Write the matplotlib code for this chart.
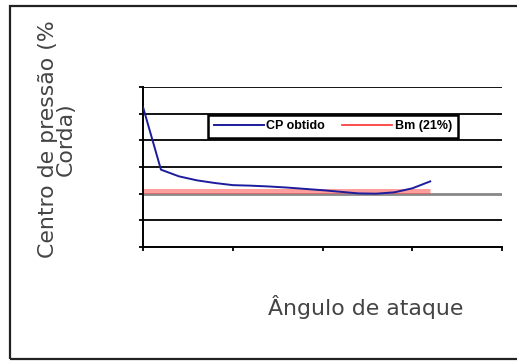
import matplotlib.pyplot as plt
import matplotlib.patches as patches
import numpy as np

# angle of attack (deg) and centre of pressure (% chord)
angulo = [0, 1, 2, 3, 4, 5, 6, 7, 8, 9, 10, 11, 12, 13, 14, 15, 16]
cp_obtido = [52.5, 29.0, 26.5, 25.0, 24.0, 23.2, 23.0, 22.7, 22.3, 21.8,
             21.3, 20.7, 20.1, 20.0, 20.5, 22.0, 24.6]
base_valor = 21

y_ticks = [0, 10, 20, 30, 40, 50, 60]
x_ticks = [0, 5, 10, 15, 20]

fig = plt.figure(figsize=(5.17, 3.62), dpi=100)
fig.patch.set_facecolor('white')

# outer chart frame
fig.patches.append(patches.Rectangle((10 / 517, 3 / 362), 1.2, 353 / 362,
                                     transform=fig.transFigure, fill=False,
                                     edgecolor='#222222', linewidth=1.6))

ax = fig.add_axes([143 / 517, 115 / 362, 359 / 517, 160 / 362])

# horizontal gridlines, one of them grey
for v in y_ticks[1:]:
    col = '#888888' if v == 20 else 'black'
    lw = 2.0 if v == 20 else 1.3
    ax.axhline(v, color=col, linewidth=lw, zorder=1)

ax.plot([angulo[0], angulo[-1]], [base_valor, base_valor], color='#ff5a5a',
        alpha=0.6, linewidth=3.6, solid_capstyle='butt', zorder=2,
        label='Bm (21%)')
ax.plot(angulo, cp_obtido, color='#1c1c9c', linewidth=1.4, zorder=3,
        label='CP obtido')

ax.set_xlim(0, 20)
ax.set_ylim(0, 60)
ax.set_xticks(x_ticks)
ax.set_yticks(y_ticks)
ax.set_xticklabels([])
ax.set_yticklabels([])
ax.tick_params(direction='out', length=3, width=1.3, color='black')

for s in ['top', 'right']:
    ax.spines[s].set_visible(False)
for s in ['left', 'bottom']:
    ax.spines[s].set_linewidth(1.4)

handles, labels = ax.get_legend_handles_labels()
leg_red = plt.Line2D([], [], color='#ff3030', linewidth=1.2)
leg = ax.legend([handles[1], leg_red], [labels[1], labels[0]], ncol=2,
                mode='expand', loc='lower left',
                bbox_to_anchor=(0.181, 0.681, 0.696, 0.15),
                borderaxespad=0,
                fancybox=False, framealpha=1, edgecolor='black',
                prop={'weight': 'bold', 'size': 9, 'family': 'Liberation Sans'},
                handlelength=4.0, handletextpad=0.2, borderpad=0.45,
                columnspacing=0.3)
leg.get_frame().set_linewidth(1.8)
leg.set_zorder(5)

fig.text(57 / 517, 1 - 139 / 362, 'Centro de pressão (%\nCorda)',
         rotation=90, ha='center', va='center', fontsize=15.8,
         family='DejaVu Sans', color='#444444', linespacing=0.9)
fig.text(366 / 517, 1 - 307 / 362, 'Ângulo de ataque', ha='center',
         va='center', fontsize=15.8, family='DejaVu Sans', color='#444444')

fig.savefig('out.png', dpi=100)
